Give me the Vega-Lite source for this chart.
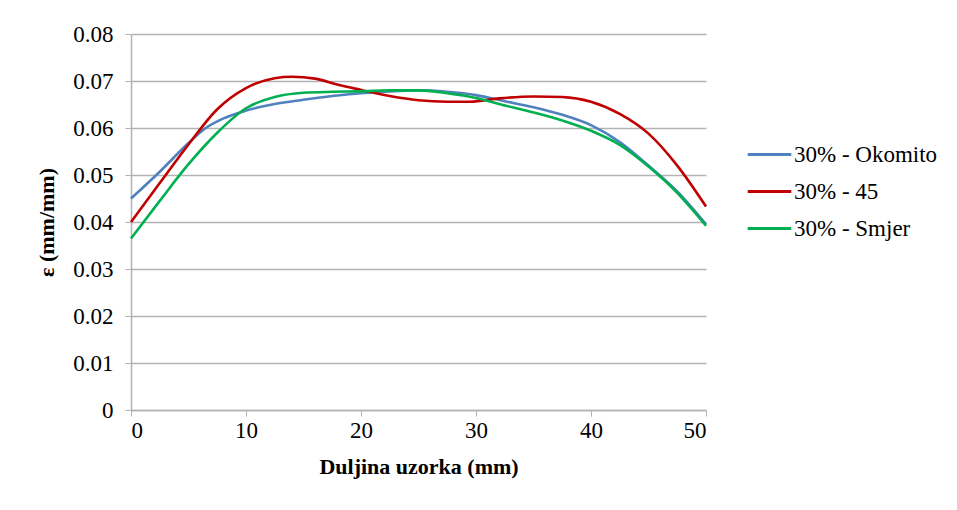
{
  "$schema": "https://vega.github.io/schema/vega-lite/v6.json",
  "width": 575,
  "height": 376,
  "autosize": {"type": "none"},
  "padding": {"left": 131, "top": 34, "right": 251, "bottom": 100},
  "background": "white",
  "config": {
    "view": {"stroke": null},
    "font": "Liberation Serif",
    "style": {"guide-label": {"font": "Liberation Serif"}, "guide-title": {"font": "Liberation Serif"}},
    "axis": {"labelFont": "Liberation Serif", "titleFont": "Liberation Serif"},
    "legend": {"labelFont": "Liberation Serif"}
  },
  "data": {
    "values": [
      {"x": 0, "y": 0.045, "s": "30% - Okomito"},
      {"x": 2.5, "y": 0.0507, "s": "30% - Okomito"},
      {"x": 5, "y": 0.0568, "s": "30% - Okomito"},
      {"x": 6.5, "y": 0.0600, "s": "30% - Okomito"},
      {"x": 8, "y": 0.0620, "s": "30% - Okomito"},
      {"x": 10, "y": 0.0637, "s": "30% - Okomito"},
      {"x": 12.5, "y": 0.0651, "s": "30% - Okomito"},
      {"x": 15, "y": 0.066, "s": "30% - Okomito"},
      {"x": 17.5, "y": 0.0668, "s": "30% - Okomito"},
      {"x": 20, "y": 0.0674, "s": "30% - Okomito"},
      {"x": 22.5, "y": 0.0678, "s": "30% - Okomito"},
      {"x": 25, "y": 0.068, "s": "30% - Okomito"},
      {"x": 27.5, "y": 0.0677, "s": "30% - Okomito"},
      {"x": 30, "y": 0.067, "s": "30% - Okomito"},
      {"x": 32.5, "y": 0.0657, "s": "30% - Okomito"},
      {"x": 35, "y": 0.0644, "s": "30% - Okomito"},
      {"x": 37.5, "y": 0.0628, "s": "30% - Okomito"},
      {"x": 40, "y": 0.0606, "s": "30% - Okomito"},
      {"x": 42.5, "y": 0.0570, "s": "30% - Okomito"},
      {"x": 45, "y": 0.0520, "s": "30% - Okomito"},
      {"x": 47.5, "y": 0.0465, "s": "30% - Okomito"},
      {"x": 50, "y": 0.0395, "s": "30% - Okomito"},
      {"x": 0, "y": 0.040, "s": "30% - 45"},
      {"x": 2.5, "y": 0.0483, "s": "30% - 45"},
      {"x": 5, "y": 0.0565, "s": "30% - 45"},
      {"x": 7.5, "y": 0.0640, "s": "30% - 45"},
      {"x": 10, "y": 0.0685, "s": "30% - 45"},
      {"x": 12.5, "y": 0.0706, "s": "30% - 45"},
      {"x": 14, "y": 0.0709, "s": "30% - 45"},
      {"x": 16, "y": 0.0705, "s": "30% - 45"},
      {"x": 18, "y": 0.0692, "s": "30% - 45"},
      {"x": 20, "y": 0.0681, "s": "30% - 45"},
      {"x": 22.5, "y": 0.0668, "s": "30% - 45"},
      {"x": 25, "y": 0.0659, "s": "30% - 45"},
      {"x": 27.5, "y": 0.0656, "s": "30% - 45"},
      {"x": 29.5, "y": 0.0656, "s": "30% - 45"},
      {"x": 32, "y": 0.0663, "s": "30% - 45"},
      {"x": 35, "y": 0.0667, "s": "30% - 45"},
      {"x": 37.5, "y": 0.0666, "s": "30% - 45"},
      {"x": 40, "y": 0.0656, "s": "30% - 45"},
      {"x": 42.5, "y": 0.0630, "s": "30% - 45"},
      {"x": 45, "y": 0.0588, "s": "30% - 45"},
      {"x": 47.5, "y": 0.0520, "s": "30% - 45"},
      {"x": 50, "y": 0.0433, "s": "30% - 45"},
      {"x": 0, "y": 0.0365, "s": "30% -  Smjer"},
      {"x": 2.5, "y": 0.0445, "s": "30% -  Smjer"},
      {"x": 5, "y": 0.0523, "s": "30% -  Smjer"},
      {"x": 7.5, "y": 0.0590, "s": "30% -  Smjer"},
      {"x": 10, "y": 0.0642, "s": "30% -  Smjer"},
      {"x": 12.5, "y": 0.0666, "s": "30% -  Smjer"},
      {"x": 15, "y": 0.0675, "s": "30% -  Smjer"},
      {"x": 17.5, "y": 0.0677, "s": "30% -  Smjer"},
      {"x": 20, "y": 0.0678, "s": "30% -  Smjer"},
      {"x": 22.5, "y": 0.068, "s": "30% -  Smjer"},
      {"x": 25, "y": 0.068, "s": "30% -  Smjer"},
      {"x": 27.5, "y": 0.0674, "s": "30% -  Smjer"},
      {"x": 30, "y": 0.0664, "s": "30% -  Smjer"},
      {"x": 32.5, "y": 0.0648, "s": "30% -  Smjer"},
      {"x": 35, "y": 0.0633, "s": "30% -  Smjer"},
      {"x": 37.5, "y": 0.0616, "s": "30% -  Smjer"},
      {"x": 40, "y": 0.0594, "s": "30% -  Smjer"},
      {"x": 42.5, "y": 0.0564, "s": "30% -  Smjer"},
      {"x": 45, "y": 0.0518, "s": "30% -  Smjer"},
      {"x": 47.5, "y": 0.0462, "s": "30% -  Smjer"},
      {"x": 50, "y": 0.0392, "s": "30% -  Smjer"}
    ]
  },
  "mark": {"type": "line", "interpolate": "monotone", "strokeWidth": 2.6},
  "encoding": {
    "x": {
      "field": "x", "type": "quantitative",
      "scale": {"domain": [0, 50], "nice": false},
      "axis": {
        "title": "Duljina  uzorka (mm)", "values": [0, 10, 20, 30, 40, 50],
        "grid": false, "domainColor": "#b3b3b3", "tickColor": "#b3b3b3", "domainWidth": 1.5,
        "tickSize": 6, "labelFont": "Liberation Serif", "labelFontSize": 23, "labelPadding": 3,
        "titleFont": "Liberation Serif",
        "titleFontSize": 22, "titleFontWeight": "bold", "titlePadding": 14
      }
    },
    "y": {
      "field": "y", "type": "quantitative",
      "scale": {"domain": [0, 0.08], "nice": false},
      "axis": {
        "title": "ε (mm/mm)", "values": [0, 0.01, 0.02, 0.03, 0.04, 0.05, 0.06, 0.07, 0.08],
        "labelExpr": "datum.value == 0 ? '0' : format(datum.value, '.2f')",
        "grid": true, "gridColor": "#b3b3b3", "gridWidth": 1.5,
        "domainColor": "#b3b3b3", "tickColor": "#b3b3b3", "domainWidth": 1.5,
        "tickSize": 6, "labelFont": "Liberation Serif", "labelFontSize": 23, "labelPadding": 12,
        "titleFont": "Liberation Serif",
        "titleFontSize": 22, "titleFontWeight": "bold", "titlePadding": 14
      }
    },
    "color": {
      "field": "s", "type": "nominal",
      "scale": {"domain": ["30% - Okomito", "30% - 45", "30% -  Smjer"], "range": ["#4f81bd", "#c00000", "#00b050"]},
      "legend": {
        "title": null, "orient": "none", "legendX": 615, "legendY": 97,
        "symbolType": "stroke", "symbolSize": 1900, "symbolStrokeWidth": 3,
        "labelFont": "Liberation Serif", "labelFontSize": 23,
        "rowPadding": 1, "labelOffset": 1, "labelLimit": 300
      }
    }
  }
}
